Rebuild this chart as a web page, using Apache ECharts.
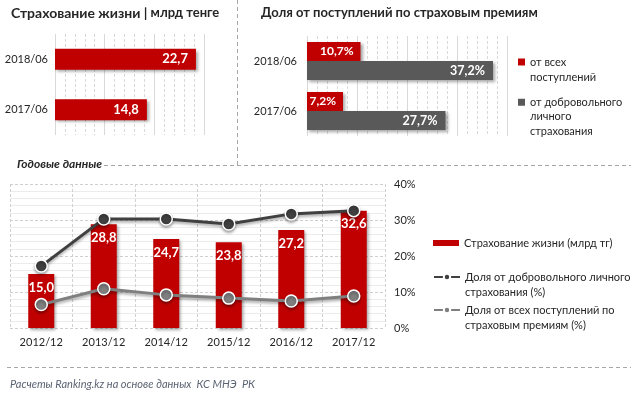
<!DOCTYPE html>
<html>
<head>
<meta charset="utf-8">
<script src="https://cdn.jsdelivr.net/npm/echarts@6/dist/echarts.min.js"></script>
<style>
html,body{margin:0;padding:0;background:#fff;}
#main{width:631px;height:396px;}
</style>
</head>
<body>
<div id="main"></div>
<script>
// ---- data ----
const halfCats = ['2018/06', '2017/06'];
const lifeHalf = [22.7, 14.8];
const shareAllHalf = [10.7, 7.2];
const shareVolHalf = [37.2, 27.7];

const yearCats = ['2012/12', '2013/12', '2014/12', '2015/12', '2016/12', '2017/12'];
const lifeYear = [15.0, 28.8, 24.7, 23.8, 27.2, 32.6];
const shareVolYear = [17.2, 30.3, 30.3, 28.9, 31.7, 32.6];
const shareAllYear = [6.5, 10.9, 9.2, 8.3, 7.5, 8.9];

const nameAllHalf = 'от всех поступлений';
const nameVolHalf = 'от добровольного личного страхования';
const nameLife = 'Страхование жизни (млрд тг)';
const nameVol = 'Доля от добровольного личного страхования (%)';
const nameAll = 'Доля от всех поступлений по страховым премиям (%)';

// ---- styling ----
const FONT = 'Lato, "Open Sans", sans-serif';
const RED = '#c00000';
const DGRAY = '#595959';
const LINE_DARK = '#404040';
const LINE_GRAY = '#7f7f7f';
const comma = v => v.toFixed(1).replace('.', ',');

// multi-line legend text whose first line sits level with the icon
const firstLineAligned = lines => ' \n'.repeat(lines.length - 1) + lines.join('\n');

const barShadow = {shadowColor: 'rgba(0,0,0,0.35)', shadowBlur: 3, shadowOffsetX: 2, shadowOffsetY: 2};

const chart = echarts.init(document.getElementById('main'), null, {renderer: 'canvas'});

function hAxis(grid, max, interval) {
  return {
    type: 'value', gridIndex: grid, min: 0, max: max, interval: interval,
    axisLabel: {show: false}, axisLine: {show: false}, axisTick: {show: false},
    splitLine: {show: true, lineStyle: {color: '#d9d9d9', width: 1}},
    minorTick: {show: false, splitNumber: 5},
    minorSplitLine: {show: true, lineStyle: {color: '#d9d9d9', type: [3, 2], width: 1}}
  };
}
function catAxisV(grid, margin) {
  return {
    type: 'category', gridIndex: grid, data: halfCats, inverse: true,
    axisLine: {show: false}, axisTick: {show: false},
    axisLabel: {margin: margin, fontSize: 11, color: '#262626', fontFamily: FONT}
  };
}

const dash = {stroke: '#a6a6a6', lineWidth: 1, lineDash: [4, 3]};
const legendText = (size, lh) => ({fontSize: size, color: '#262626', lineHeight: lh, fontFamily: FONT});

const option = {
  backgroundColor: '#ffffff',
  animation: false,
  textStyle: {fontFamily: FONT},
  title: [
    {
      left: 6, top: 1,
      text: '{b|Страхование жизни |}{n| млрд тенге}',
      textStyle: {rich: {
        b: {fontSize: 14, fontWeight: 'bold', color: '#262626', fontFamily: FONT},
        n: {fontSize: 13, color: '#262626', fontFamily: FONT}
      }}
    },
    {
      left: 256, top: 1,
      text: 'Доля от поступлений по страховым премиям',
      textStyle: {fontSize: 13, fontWeight: 'bold', color: '#262626', fontFamily: FONT}
    },
    {
      left: 12, top: 153,
      text: 'Годовые данные',
      textStyle: {fontSize: 12, fontWeight: 'bold', fontStyle: 'italic', color: '#262626', fontFamily: FONT}
    },
    {
      left: 5, top: 374,
      text: 'Расчеты Ranking.kz на основе данных  КС МНЭ  РК',
      textStyle: {fontSize: 11, fontWeight: 'normal', fontStyle: 'italic', color: '#5b6473', fontFamily: FONT}
    }
  ],
  grid: [
    {left: 55, top: 34, width: 149, height: 101},
    {left: 307, top: 36, width: 200, height: 100},
    {left: 10, top: 184, width: 375, height: 144}
  ],
  legend: [
    {
      data: [nameAllHalf], left: 518, top: 39.5, padding: 0, orient: 'vertical',
      itemWidth: 7, itemHeight: 7, icon: 'rect',
      formatter: () => firstLineAligned(['от всех', 'поступлений']),
      textStyle: legendText(11, 15)
    },
    {
      data: [nameVolHalf], left: 518, top: 66, padding: 0, orient: 'vertical',
      itemWidth: 7, itemHeight: 7, icon: 'rect',
      formatter: () => firstLineAligned(['от добровольного', 'личного', 'страхования']),
      textStyle: legendText(11, 14.5)
    },
    {
      data: [nameLife], left: 433, top: 236, padding: 0, orient: 'vertical',
      itemWidth: 26, itemHeight: 6, icon: 'rect',
      textStyle: legendText(11, 14)
    },
    {
      data: [nameVol], left: 433, top: 254.5, padding: 0, orient: 'vertical',
      itemWidth: 26, itemHeight: 8,
      formatter: () => firstLineAligned(['Доля от добровольного личного', 'страхования (%)']),
      textStyle: legendText(11, 15)
    },
    {
      data: [nameAll], left: 433, top: 287.5, padding: 0, orient: 'vertical',
      itemWidth: 26, itemHeight: 8,
      formatter: () => firstLineAligned(['Доля от всех поступлений по', 'страховым премиям (%)']),
      textStyle: legendText(11, 15)
    }
  ],
  xAxis: [
    hAxis(0, 24, 8),
    hAxis(1, 40, 10),
    {
      type: 'category', gridIndex: 2, data: yearCats,
      axisLine: {show: false}, axisTick: {show: false},
      axisLabel: {margin: 9, fontSize: 11, color: '#262626', fontFamily: FONT},
      splitLine: {show: true, lineStyle: {color: '#d0d0d0', type: [3, 2]}}
    }
  ],
  yAxis: [
    catAxisV(0, 7),
    catAxisV(1, 10),
    {
      type: 'value', gridIndex: 2, min: 0, max: 40, interval: 10,
      axisLabel: {show: false}, axisLine: {show: false}, axisTick: {show: false},
      splitLine: {show: true, lineStyle: {color: '#cfcfcf', type: [3, 2]}},
      minorTick: {show: false, splitNumber: 5},
      minorSplitLine: {show: true, lineStyle: {color: '#ececec'}}
    },
    {
      type: 'value', gridIndex: 2, position: 'right', min: 0, max: 40, interval: 10,
      axisLine: {show: false}, axisTick: {show: false}, splitLine: {show: false},
      axisLabel: {formatter: '{value}%', margin: 9, fontSize: 11, color: '#262626', fontFamily: FONT}
    }
  ],
  series: [
    {
      name: 'Страхование жизни, полугодие', type: 'bar', xAxisIndex: 0, yAxisIndex: 0,
      data: lifeHalf, barWidth: 21,
      itemStyle: Object.assign({color: RED}, barShadow),
      label: {show: true, position: 'insideRight', distance: 8, color: '#fff', fontWeight: 'bold', fontSize: 13,
        fontFamily: FONT, formatter: p => comma(p.value)}
    },
    {
      name: nameAllHalf, type: 'bar', xAxisIndex: 1, yAxisIndex: 1,
      data: shareAllHalf, barWidth: 19, barGap: '0%',
      itemStyle: Object.assign({color: RED}, barShadow),
      label: {show: true, position: 'insideRight', distance: 7, color: '#fff', fontWeight: 'bold', fontSize: 12,
        fontFamily: FONT, formatter: p => comma(p.value) + '%'}
    },
    {
      name: nameVolHalf, type: 'bar', xAxisIndex: 1, yAxisIndex: 1,
      data: shareVolHalf, barWidth: 19, barGap: '0%',
      itemStyle: Object.assign({color: DGRAY}, barShadow),
      label: {show: true, position: 'insideRight', distance: 8, color: '#fff', fontWeight: 'bold', fontSize: 12.5,
        fontFamily: FONT, formatter: p => comma(p.value) + '%'}
    },
    {
      name: nameLife, type: 'bar', xAxisIndex: 2, yAxisIndex: 2,
      data: lifeYear, barWidth: 26,
      itemStyle: Object.assign({color: RED}, barShadow),
      label: {show: true, position: 'insideTop', distance: 7, color: '#fff', fontWeight: 'bold', fontSize: 13,
        fontFamily: FONT, formatter: p => comma(p.value)}
    },
    {
      name: nameVol, type: 'line', xAxisIndex: 2, yAxisIndex: 3,
      data: shareVolYear, symbol: 'circle', symbolSize: 12, z: 5,
      lineStyle: {color: LINE_DARK, width: 3, shadowColor: 'rgba(0,0,0,0.35)', shadowBlur: 3, shadowOffsetY: 2},
      itemStyle: {color: LINE_DARK, borderColor: '#ffffff', borderWidth: 1.5,
        shadowColor: 'rgba(0,0,0,0.35)', shadowBlur: 3, shadowOffsetY: 2}
    },
    {
      name: nameAll, type: 'line', xAxisIndex: 2, yAxisIndex: 3,
      data: shareAllYear, symbol: 'circle', symbolSize: 12, z: 5,
      lineStyle: {color: LINE_GRAY, width: 3, shadowColor: 'rgba(0,0,0,0.35)', shadowBlur: 3, shadowOffsetY: 2},
      itemStyle: {color: LINE_GRAY, borderColor: '#ffffff', borderWidth: 1.5,
        shadowColor: 'rgba(0,0,0,0.35)', shadowBlur: 3, shadowOffsetY: 2}
    }
  ],
  graphic: [
    {type: 'line', shape: {x1: 237.5, y1: 0, x2: 237.5, y2: 165}, style: dash, silent: true},
    {type: 'line', shape: {x1: 104, y1: 165.5, x2: 631, y2: 165.5}, style: dash, silent: true},
    {type: 'line', shape: {x1: 7, y1: 367.5, x2: 631, y2: 367.5}, style: dash, silent: true}
  ]
};
chart.setOption(option);
</script>
</body>
</html>
